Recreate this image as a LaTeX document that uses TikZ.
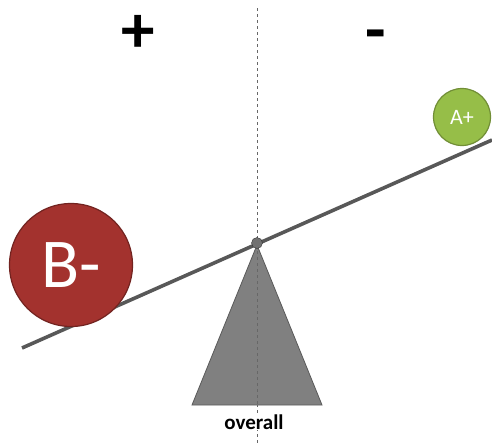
\documentclass[tikz,border=0pt]{standalone}
\usepackage{fontspec}
\setmainfont{Carlito}
\usetikzlibrary{positioning,calc}
\definecolor{beamgray}{RGB}{88,88,88}
\definecolor{fulcgray}{RGB}{128,128,128}
\definecolor{brick}{RGB}{163,50,46}
\definecolor{leaf}{RGB}{150,190,72}
\begin{document}
\begin{tikzpicture}[x=1pt,y=-1pt, every node/.style={font=\sffamily}]
  \useasboundingbox (0,0) rectangle (492,445);
  \tikzset{ball/.style={circle,draw,line width=1.2pt,text=white,inner sep=0pt},
    sign/.style={font=\fontsize{67}{67}\selectfont\bfseries,anchor=base,inner sep=0pt,text height=0.6em,text depth=0pt}}
  % axis and beam
  \coordinate (top) at (257,8); \coordinate (bot) at (257,445);
  \coordinate (left) at (22,348); \coordinate (right) at (492,140);
  \coordinate (apex) at (257,245);
  \draw[fulcgray!80!black,dashed,line width=0.7pt] (top) -- (bot);
  \fill[fulcgray,draw=fulcgray!70!black,line width=0.8pt] (apex) -- (192,405) -- (322,405) -- cycle;
  \draw[fulcgray!80!black,dashed,line width=0.7pt] (apex) -- (257,405);
  \draw[beamgray,line width=3.6pt] (left) -- (right);
  \node[circle,fill=beamgray!85,draw=beamgray!60!black,minimum size=11pt,inner sep=0pt] (pivot) at (257,243) {};
  % weights
  \node[ball,fill=brick,draw=brick!70!black,minimum size=123pt,font=\fontsize{70}{70}\selectfont] (bminus) at (71,265) {B-};
  \node[ball,fill=leaf,draw=leaf!75!black,minimum size=57pt,font=\fontsize{22}{22}\selectfont] (aplus) at (462,117) {A+};
  % labels
  \node[sign] (plus) at (138,52) {+};
  \node[sign] (minus) at (376,52) {-};
  \node[font=\fontsize{21}{21}\selectfont\bfseries,fill=white,inner sep=1pt] (overall) at (254,422) {overall};
\end{tikzpicture}
\end{document}
